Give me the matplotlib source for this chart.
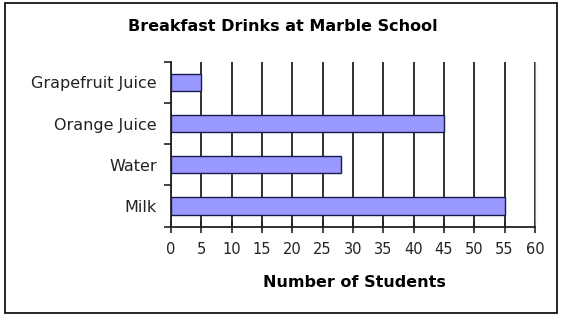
import matplotlib.pyplot as plt
from matplotlib.patches import Rectangle

# Data
drinks = ['Milk', 'Water', 'Orange Juice', 'Grapefruit Juice']
students = [55, 28, 45, 5]
x_ticks = list(range(0, 61, 5))

plt.rcParams['font.family'] = ['DejaVu Sans']

fig = plt.figure(figsize=(5.63, 3.16), dpi=100)
ax = fig.add_axes([0.3037, 0.2826, 0.6463, 0.5222])

pos = list(range(len(drinks)))
ax.barh(pos, students, height=0.42, color='#9999ff', edgecolor='#1a1a4d', linewidth=1.0, zorder=3)

ax.set_xlim(0, 60)
ax.set_ylim(-0.5, len(drinks) - 0.5)
ax.set_xticks(x_ticks)
ax.set_xticklabels([str(t) for t in x_ticks], fontsize=10.5, color='#222222')
ax.set_yticks(pos)
ax.set_yticklabels(drinks, fontsize=11.5, color='#222222')
ax.tick_params(axis='y', length=0, pad=10)
ax.set_yticks([p - 0.5 for p in pos] + [len(drinks) - 0.5], minor=True)
ax.tick_params(axis='y', which='minor', length=5, width=1.2, color='#222222')
ax.tick_params(axis='x', direction='inout', length=8, width=1.2, color='#222222', pad=7)

ax.grid(axis='x', color='#222222', linewidth=1.3, zorder=1)
ax.spines['top'].set_visible(False)
ax.spines['right'].set_color('#888888')
for side in ['left', 'bottom']:
    ax.spines[side].set_linewidth(1.3)
    ax.spines[side].set_color('#222222')

fig.text(0.502, 0.915, 'Breakfast Drinks at Marble School', ha='center', va='center',
         fontsize=11.5, fontweight='bold')
fig.text(0.63, 0.107, 'Number of Students', ha='center', va='center',
         fontsize=11.5, fontweight='bold')

fig.patches.append(Rectangle((0.009, 0.01), 0.981, 0.98, transform=fig.transFigure,
                             fill=False, edgecolor='black', linewidth=1.2))

fig.savefig('out.png', dpi=100)
